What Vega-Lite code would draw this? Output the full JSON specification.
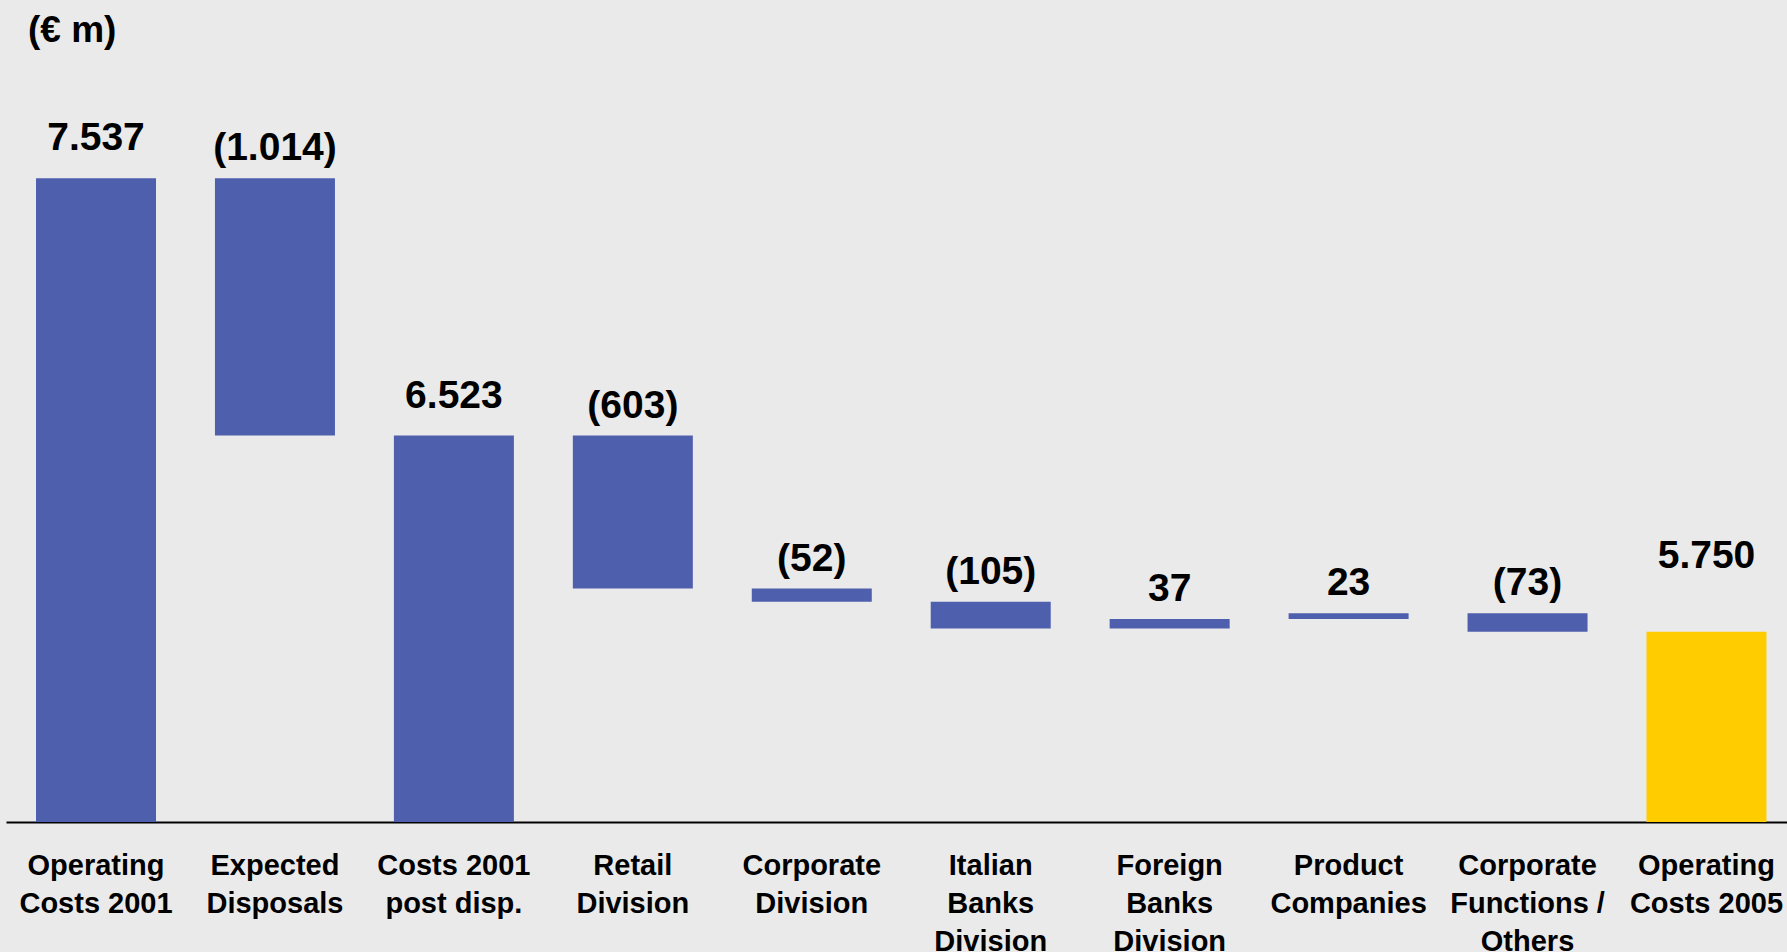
{
  "$schema": "https://vega.github.io/schema/vega-lite/v6.json",
  "autosize": {"type": "none"},
  "width": 1781,
  "height": 812,
  "padding": {"left": 6, "top": 10, "right": 0, "bottom": 130},
  "background": "#eaeaea",
  "config": {
    "view": {"stroke": null},
    "font": "Liberation Sans",
    "text": {"font": "Liberation Sans"}
  },
  "title": {
    "text": "(€ m)",
    "anchor": "start",
    "frame": "group",
    "font": "Liberation Sans",
    "fontSize": 37,
    "fontWeight": "bold",
    "color": "#000000",
    "baseline": "alphabetic",
    "offset": 0,
    "dx": 22,
    "dy": 69
  },
  "data": {
    "values": [
      {"item": "Operating\nCosts 2001", "start": 0, "end": 7537, "label": "7.537", "kind": "total"},
      {"item": "Expected\nDisposals", "start": 7537, "end": 6523, "label": "(1.014)", "kind": "delta"},
      {"item": "Costs 2001\npost disp.", "start": 0, "end": 6523, "label": "6.523", "kind": "total"},
      {"item": "Retail\nDivision", "start": 6523, "end": 5920, "label": "(603)", "kind": "delta"},
      {"item": "Corporate\nDivision", "start": 5920, "end": 5868, "label": "(52)", "kind": "delta"},
      {"item": "Italian\nBanks\nDivision", "start": 5868, "end": 5763, "label": "(105)", "kind": "delta"},
      {"item": "Foreign\nBanks\nDivision", "start": 5763, "end": 5800, "label": "37", "kind": "delta"},
      {"item": "Product\nCompanies", "start": 5800, "end": 5823, "label": "23", "kind": "delta"},
      {"item": "Corporate\nFunctions /\nOthers", "start": 5823, "end": 5750, "label": "(73)", "kind": "delta"},
      {"item": "Operating\nCosts 2005", "start": 0, "end": 5750, "label": "5.750", "kind": "final"}
    ]
  },
  "transform": [
    {"calculate": "max(datum.start, datum.end)", "as": "top"}
  ],
  "encoding": {
    "x": {
      "field": "item",
      "type": "nominal",
      "sort": null,
      "scale": {"paddingInner": 0.3294, "paddingOuter": 0.1412, "align": 0.594},
      "axis": {
        "title": null,
        "labelAngle": 0,
        "labelExpr": "split(datum.label, '\\n')",
        "labelFont": "Liberation Sans",
        "labelFontSize": 29,
        "labelFontWeight": "bold",
        "labelColor": "#000000",
        "labelLineHeight": 38,
        "labelBaseline": "alphabetic",
        "labelPadding": 52,
        "labelLimit": 500,
        "labelOverlap": false,
        "labelBound": false,
        "labelFlush": false,
        "ticks": false,
        "tickSize": 0,
        "domain": true,
        "domainColor": "#000000",
        "domainWidth": 2,
        "grid": false
      }
    }
  },
  "layer": [
    {
      "mark": {"type": "bar"},
      "encoding": {
        "y": {
          "field": "end",
          "type": "quantitative",
          "scale": {"domain": [5000, 8200], "zero": false, "nice": false, "clamp": true},
          "axis": null
        },
        "y2": {"field": "start"},
        "color": {
          "field": "kind",
          "type": "nominal",
          "scale": {"domain": ["total", "delta", "final"], "range": ["#4e5fae", "#4e5fae", "#ffcc00"]},
          "legend": null
        }
      }
    },
    {
      "transform": [{"filter": "datum.kind == 'total'"}],
      "mark": {"type": "text", "baseline": "alphabetic", "dy": -28, "fontSize": 39, "fontWeight": "bold", "color": "#000000"},
      "encoding": {
        "y": {"field": "top", "type": "quantitative"},
        "text": {"field": "label"}
      }
    },
    {
      "transform": [{"filter": "datum.kind == 'delta'"}],
      "mark": {"type": "text", "baseline": "alphabetic", "dy": -18, "fontSize": 39, "fontWeight": "bold", "color": "#000000"},
      "encoding": {
        "y": {"field": "top", "type": "quantitative"},
        "text": {"field": "label"}
      }
    },
    {
      "transform": [{"filter": "datum.kind == 'final'"}],
      "mark": {"type": "text", "baseline": "alphabetic", "dy": -64, "fontSize": 39, "fontWeight": "bold", "color": "#000000"},
      "encoding": {
        "y": {"field": "top", "type": "quantitative"},
        "text": {"field": "label"}
      }
    }
  ]
}
